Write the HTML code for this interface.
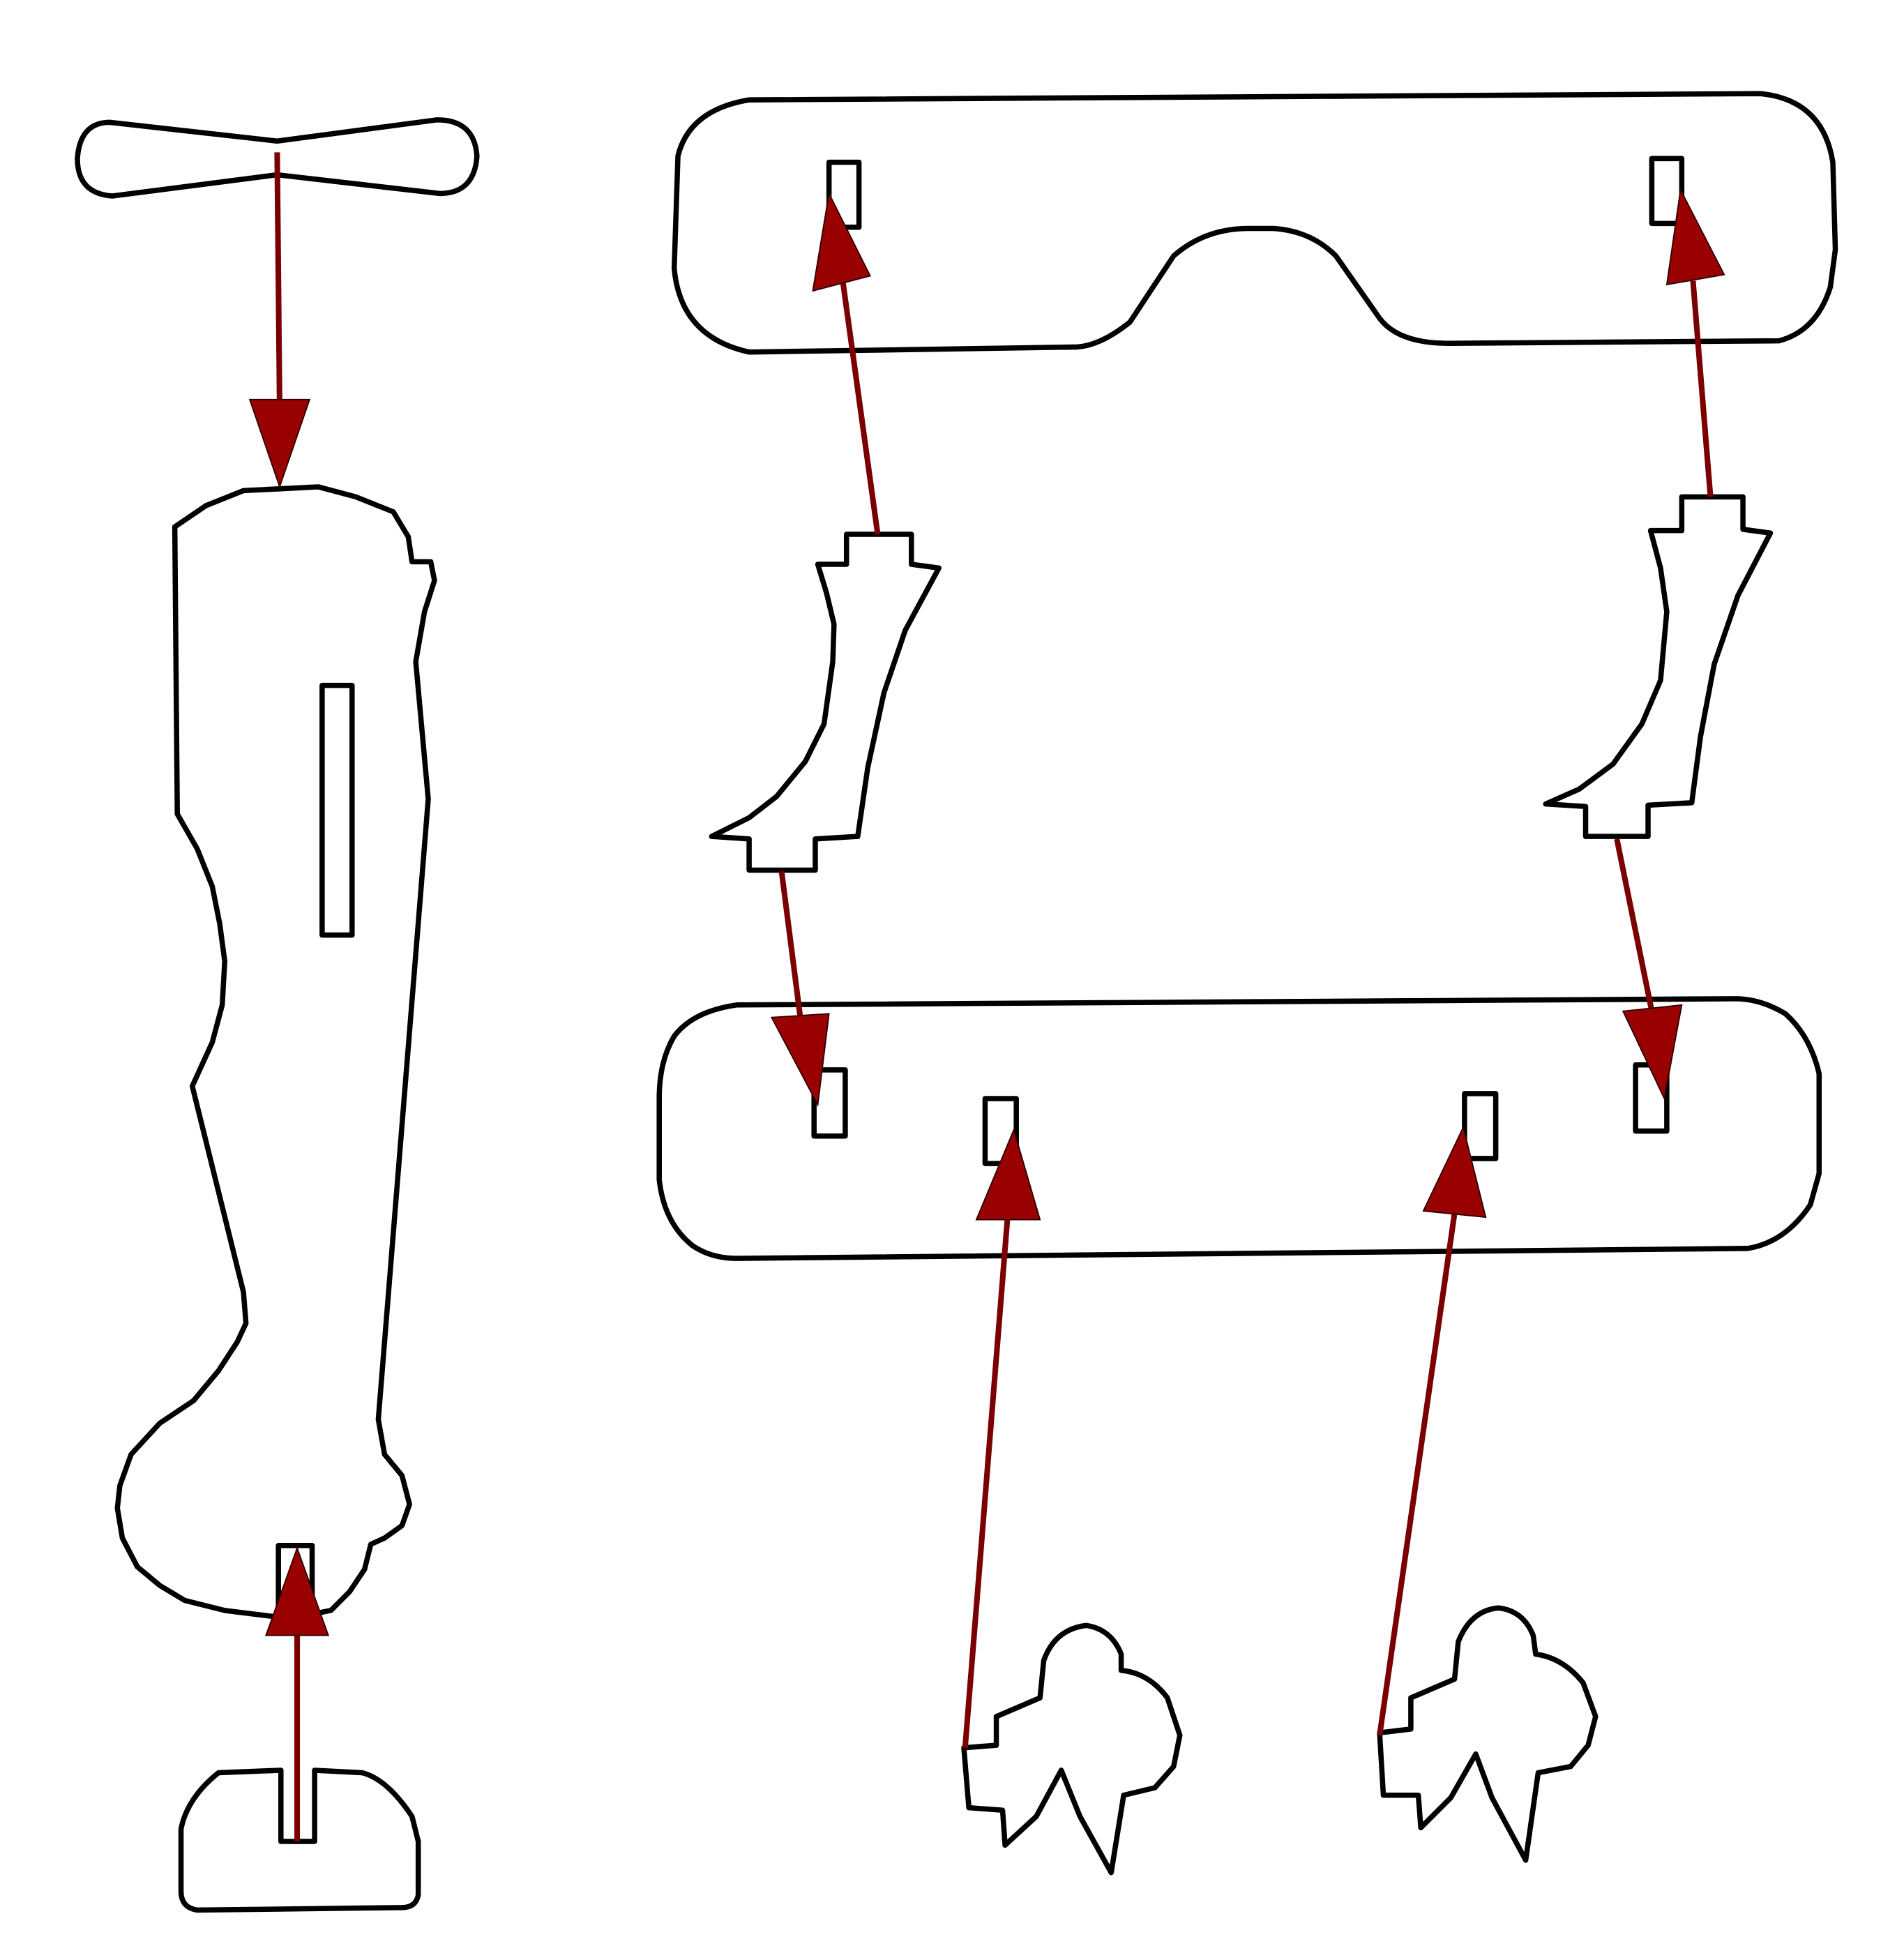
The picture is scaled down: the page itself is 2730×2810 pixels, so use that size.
<!DOCTYPE html>
<html><head><meta charset="utf-8"><style>
html,body{margin:0;padding:0;background:#fff;}
svg{display:block;}
</style></head><body>
<svg width="2730" height="2810" viewBox="0 0 1525 1570" preserveAspectRatio="none" xmlns="http://www.w3.org/2000/svg">
<g fill="none" stroke="#000" stroke-width="4.2" stroke-linejoin="round">
<path d="M88,98 L222,113 L350,96 Q380,96 382,125 Q380,155 352,155 L222,140 L90,157 Q62,155 62,127 Q64,98 88,98 Z"/>
<polygon points="140,422 165,405 195,393 255,390 285,398 315,410 327,430 330,450 345,450 348,465 340,490 333,530 343,640 303,1137 308,1165 322,1182 328,1205 322,1222 308,1232 297,1237 292,1257 280,1275 265,1290 250,1293 220,1295 180,1290 148,1282 128,1270 110,1255 98,1232 94,1208 96,1190 105,1165 128,1140 155,1122 175,1098 190,1075 197,1060 195,1035 154,870 170,835 178,805 180,770 176,740 170,710 158,680 142,652"/>
<rect x="258" y="549" width="24" height="200"/>
<rect x="223" y="1238" width="27" height="50"/>
<path d="M145,1465 Q150,1440 175,1420 L225,1418 L225,1475 L252,1475 L252,1418 L290,1420 Q310,1425 330,1455 L335,1475 L335,1518 Q333,1528 322,1528 L158,1530 Q145,1528 145,1515 Z"/>
<path d="M600,282 L860,278 Q880,278 905,258 L940,205 Q965,183 1000,183 L1020,183 Q1050,185 1070,205 L1105,255 Q1120,275 1160,275 L1425,273 Q1455,265 1466,230 L1470,200 L1468,130 Q1460,80 1410,75 L600,80 Q552,88 543,125 L540,215 Q545,270 600,282 Z"/>
<rect x="664" y="130" width="24" height="52"/>
<rect x="1323" y="127" width="24" height="52"/>
<polygon points="678,428 678,452 655,452 662,475 668,500 667,530 660,580 645,610 622,638 600,655 570,670 600,672 600,697 653,697 653,672 687,670 695,615 708,555 725,505 752,455 730,452 730,428"/>
<polygon points="1347,398 1347,425 1322,425 1330,455 1335,490 1330,545 1315,580 1292,612 1265,632 1238,644 1270,646 1270,670 1320,670 1320,645 1355,643 1362,590 1373,532 1392,477 1418,427 1396,424 1396,398"/>
<path d="M590,1008 L1400,1000 Q1430,995 1450,965 L1457,940 L1457,860 Q1450,830 1430,812 Q1410,800 1390,800 L590,805 Q555,810 540,830 Q528,850 528,880 L528,945 Q532,980 555,998 Q570,1008 590,1008 Z"/>
<rect x="652" y="857" width="25" height="53"/>
<rect x="789" y="880" width="25" height="52"/>
<rect x="1173" y="876" width="25" height="52"/>
<rect x="1310" y="853" width="25" height="53"/>
<path d="M772,1400 L798,1398 L798,1375 L833,1360 L836,1330 Q845,1305 870,1302 Q890,1305 898,1325 L898,1338 Q920,1340 935,1360 L945,1390 L940,1415 L925,1432 L900,1438 L890,1500 L865,1455 L850,1418 L830,1455 L805,1478 L803,1450 L776,1448 Z"/>
<path d="M1105,1388 L1130,1385 L1130,1360 L1165,1345 L1168,1315 Q1178,1290 1200,1288 Q1220,1290 1228,1310 L1230,1325 Q1252,1328 1268,1348 L1278,1375 L1272,1398 L1258,1415 L1232,1420 L1222,1490 L1195,1440 L1182,1405 L1162,1440 L1138,1464 L1136,1438 L1108,1438 Z"/>
</g>
<g stroke="#7a0000" stroke-width="4.5">
<line x1="222" y1="122" x2="224" y2="330"/>
<line x1="238" y1="1475" x2="238" y2="1300"/>
<line x1="703" y1="428" x2="675" y2="225"/>
<line x1="1370" y1="398" x2="1356" y2="225"/>
<line x1="626" y1="698" x2="641" y2="815"/>
<line x1="1295" y1="672" x2="1323" y2="810"/>
<line x1="773" y1="1400" x2="807" y2="975"/>
<line x1="1105" y1="1390" x2="1165" y2="972"/>
</g>
<g fill="#990000" stroke="#2a0000" stroke-width="1">
<polygon points="224,390 200,320 248,320"/>
<polygon points="238,1240 213,1310 263,1310"/>
<polygon points="664,155 651,233 697,221"/>
<polygon points="1346,152 1335,228 1381,220"/>
<polygon points="655,885 618,815 664,812"/>
<polygon points="1333,880 1300,810 1347,805"/>
<polygon points="812,905 782,977 833,977"/>
<polygon points="1172,903 1140,970 1190,975"/>
</g>
</svg>
</body></html>
